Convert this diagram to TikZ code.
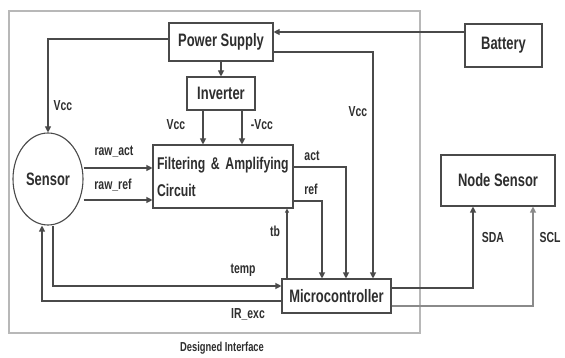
\documentclass[tikz,border=0pt]{standalone}
\usepackage{fontspec}
\setmainfont{Liberation Sans}[FakeStretch=0.72]
\usetikzlibrary{arrows.meta,shapes.geometric}
\definecolor{ln}{HTML}{4A4A4A}
\definecolor{tx}{HTML}{2E2E2E}
\definecolor{fr}{HTML}{B8B8B8}
\definecolor{lt}{HTML}{8A8A8A}
\tikzset{
  box/.style={draw=ln, line width=1.1pt, fill=white, text=tx, font=\fontsize{18}{21}\selectfont\bfseries, inner sep=2pt},
  arr/.style={draw=ln, line width=1.1pt, -{Triangle[width=6pt,length=6pt]}},
  lbl/.style={text=tx, font=\fontsize{14.5}{16}\selectfont\bfseries, inner sep=0pt},
  frame/.style={draw=fr, line width=1.1pt}
}
\begin{document}
\begin{tikzpicture}[x=1pt,y=-1pt]
\useasboundingbox (0,0) rectangle (565,358);
% outer frame
\draw[frame] (9,11) rectangle (420,333);
\node[lbl, font=\fontsize{13}{15}\selectfont\bfseries] (di) at (222,348) {Designed Interface};

% nodes
\node[box, minimum width=104pt, minimum height=38pt] (ps) at (221,42) {Power Supply};
\node[box, minimum width=77pt, minimum height=43pt] (bat) at (503.5,45.5) {Battery};
\node[box, minimum width=68pt, minimum height=33pt] (inv) at (221,93.5) {Inverter};
\node[box, minimum width=140pt, minimum height=63pt, text width=132pt, inner sep=4pt, align=left, font=\fontsize{17}{20}\selectfont\bfseries] (filt) at (223,176.5) {Filtering \& Amplifying\\[7pt]Circuit};
\node[box, ellipse, minimum width=70pt, minimum height=92pt, inner sep=0pt] (sen) at (48,179) {Sensor};
\node[box, minimum width=109pt, minimum height=34pt] (mc) at (336.5,296) {Microcontroller};
\node[box, minimum width=114pt, minimum height=51pt] (ns) at (498,180.5) {Node Sensor};

% connectors
\draw[arr] (bat.west |- 0,32) -- (ps.east |- 0,32);
\draw[arr] (ps.east |- 0,52) -| (373,0 |- mc.north);
\draw[arr] (ps.west |- 0,39) -| (sen.north);
\draw[arr] (ps.south) -- (inv.north);
\draw[arr] (203,0 |- inv.south) -- (203,0 |- filt.north);
\draw[arr] (242,0 |- inv.south) -- (242,0 |- filt.north);
\draw[arr] (sen.east |- 0,168) -- (filt.west |- 0,168);
\draw[arr] (sen.east |- 0,200) -- (filt.west |- 0,200);
\draw[arr] (filt.east |- 0,167) -| (346,0 |- mc.north);
\draw[arr] (filt.east |- 0,201) -| (322,0 |- mc.north);
\draw[arr, -{Triangle[width=4pt,length=4pt]}] (287,0 |- mc.north) -- (287,0 |- filt.south);
\draw[arr] (53,0 |- sen.south) |- (mc.west |- 0,286);
\draw[arr] (mc.west |- 0,301) -| (42,0 |- sen.south);
\draw[arr] (mc.east |- 0,288) -| (473,0 |- ns.south);
\draw[arr, draw=lt] (mc.east |- 0,306) -| (533,0 |- ns.south);

% labels
\node[lbl] (l1) at (63,106) {Vcc};
\node[lbl] (l2) at (176,125) {Vcc};
\node[lbl] (l3) at (262,125) {-Vcc};
\node[lbl] (l4) at (358,112) {Vcc};
\node[lbl] (l5) at (114,152) {raw\_act};
\node[lbl] (l6) at (113,185) {raw\_ref};
\node[lbl] (l7) at (312,156) {act};
\node[lbl] (l8) at (311,189) {ref};
\node[lbl] (l9) at (275,231) {tb};
\node[lbl] (l10) at (243,270) {temp};
\node[lbl] (l11) at (248,314) {IR\_exc};
\node[lbl] (l12) at (493,238) {SDA};
\node[lbl] (l13) at (550,238) {SCL};
\end{tikzpicture}
\end{document}
